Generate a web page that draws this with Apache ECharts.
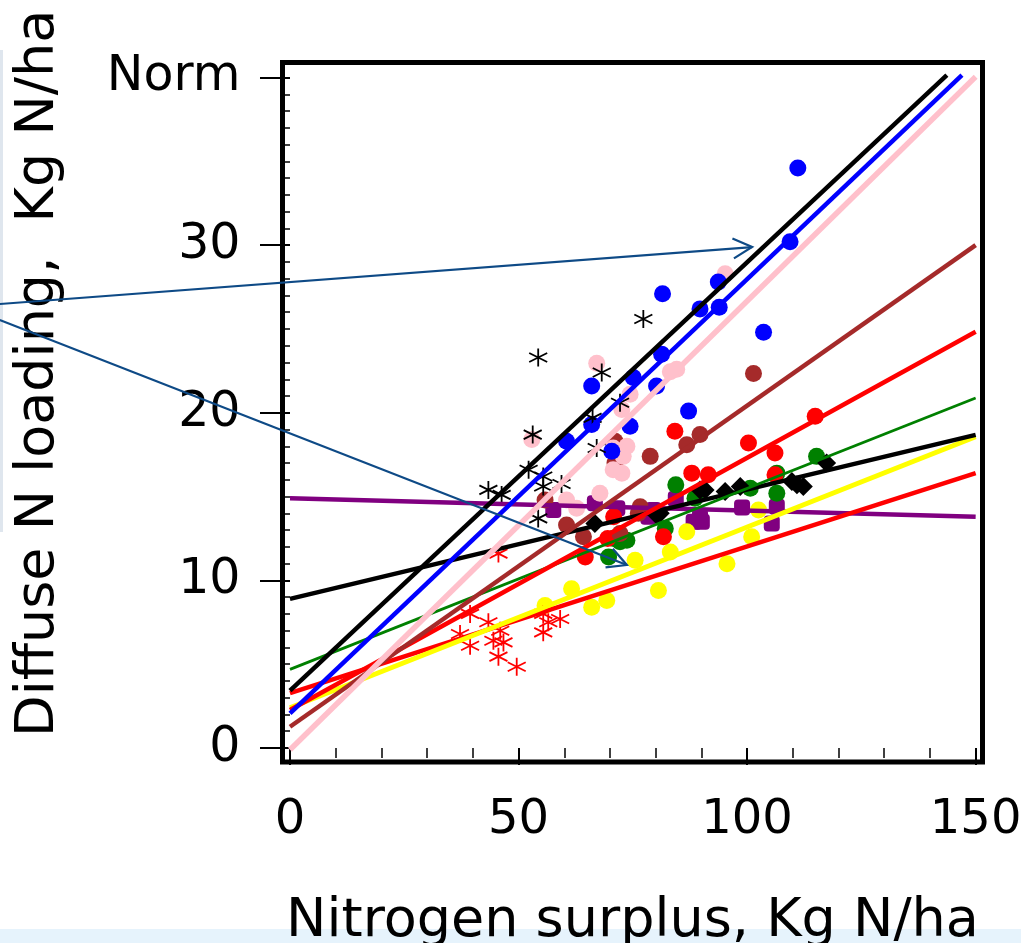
<!DOCTYPE html>
<html lang="en">
<head>
<meta charset="utf-8">
<script src="https://cdn.jsdelivr.net/npm/echarts@6/dist/echarts.min.js"></script>
<style>html,body{margin:0;padding:0;background:#fff;}</style>
</head>
<body>
<div id="main" style="width:1021px;height:943px"></div>
<script type="text/javascript">
// tick positions and labels
var xMajorTicks = [0, 50, 100, 150];
var xMinorTicks = [0, 10, 20, 30, 40, 50, 60, 70, 80, 90, 100, 110, 120, 130, 140, 150];
var yMajorTicks = [0, 10, 20, 30, 40];
var yTickLabels = ['0', '10', '20', '30', 'Norm'];
var yMinorTicks = [0, 1, 2, 3, 4, 5, 6, 7, 8, 9, 10, 11, 12, 13, 14, 15, 16, 17, 18, 19, 20,
    21, 22, 23, 24, 25, 26, 27, 28, 29, 30, 31, 32, 33, 34, 35, 36, 37, 38, 39, 40];

// observations (surplus, loading)
var blueDots = [[111.1, 34.6], [109.4, 30.2], [93.7, 27.8], [81.5, 27.1], [89.7, 26.2], [93.9, 26.3],
    [103.6, 24.8], [81.3, 23.5], [75.1, 22.1], [80.2, 21.6], [66.0, 21.6], [87.2, 20.1],
    [74.4, 19.2], [66.0, 19.3], [60.5, 18.3], [70.4, 17.7]];
var pinkDots = [[95.2, 28.3], [84.6, 22.6], [83.2, 22.45], [67.1, 22.95], [74.4, 21.1], [72.6, 20.2],
    [52.9, 18.4], [70.7, 17.9], [73.7, 18.0], [72.9, 17.4], [70.7, 16.6], [72.6, 16.4],
    [67.8, 15.2], [60.5, 14.8], [62.7, 14.3]];
var brownDots = [[101.4, 22.35], [89.7, 18.7], [86.8, 18.1], [71.1, 18.3], [71.1, 17.0], [78.8, 17.4],
    [55.8, 14.8], [60.5, 13.3], [64.2, 12.6], [76.6, 14.4], [76.2, 14.0], [72.2, 12.8]];
var redDots = [[114.9, 19.8], [84.2, 18.9], [100.3, 18.2], [106.1, 17.6], [87.9, 16.4], [91.5, 16.3],
    [106.1, 16.3], [70.8, 13.8], [81.7, 12.6], [64.6, 11.4], [69.5, 12.5]];
var greenDots = [[115.2, 17.4], [106.5, 16.4], [106.5, 15.2], [100.7, 15.5], [84.4, 15.7], [88.6, 14.9],
    [82.1, 13.1], [72.2, 12.3], [70.8, 12.5], [73.7, 12.4], [69.7, 11.4]];
var blackDots = [[117.4, 17.0], [110.9, 15.7], [112.3, 15.6], [109.8, 15.9], [98.5, 15.6], [95.2, 15.3],
    [90.8, 15.4], [89.7, 15.4], [80.2, 13.9], [81.0, 14.0], [66.7, 13.4]];
var yellowDots = [[102.5, 14.2], [101.0, 12.6], [86.8, 12.9], [95.6, 11.0], [83.2, 11.7], [75.5, 11.2],
    [80.6, 9.4], [61.6, 9.5], [69.3, 8.8], [66.0, 8.4], [55.8, 8.5]];
var purpleDots = [[57.6, 14.2], [66.7, 14.6], [71.6, 14.3], [78.4, 13.8], [79.5, 14.2], [84.4, 14.85],
    [88.3, 13.5], [90.1, 13.5], [89.7, 13.8], [98.9, 14.35], [106.5, 14.4], [105.4, 13.4]];
var blackStars = [[54.3, 23.3], [68.2, 22.4], [77.3, 25.6], [72.2, 20.6], [66.2, 19.7], [53.1, 18.7],
    [67.1, 17.9], [52.2, 16.6], [55.4, 16.2], [55.4, 15.6], [59.4, 15.75], [43.4, 15.4],
    [46.3, 15.1], [54.3, 13.7]];
var redStars = [[45.6, 11.6], [39.4, 8.0], [43.4, 7.5], [46.0, 7.0], [37.2, 6.8], [39.4, 6.1],
    [44.5, 6.4], [46.7, 6.3], [45.6, 5.45], [49.6, 4.85], [55.4, 8.0], [56.5, 7.5],
    [59.1, 7.7], [55.4, 6.9]];

// fitted lines, start and end
var blackSteepFit = [[0, 3.42], [143.7, 40.15]];
var blueFit = [[0, 2.07], [147, 40.15]];
var pinkFit = [[0, -0.1], [150, 40.05]];
var brownFit = [[0, 1.27], [150, 30.0]];
var redSteepFit = [[0, 2.27], [150, 24.84]];
var greenFit = [[0, 4.69], [150, 20.88]];
var blackFlatFit = [[0, 8.9], [150, 18.68]];
var yellowFit = [[0, 2.4], [150, 18.57]];
var redFlatFit = [[0, 3.27], [150, 16.4]];
var purpleFit = [[0, 14.9], [150, 13.8]];

// annotation arrows
var arrowStarts = [[-63.5, 26.49], [-63.5, 25.54]];
var arrowEnds = [[101.1, 29.89], [73.7, 10.92]];

var FONT = 'DejaVu Sans';
var starPath = 'path://M0,-10L0,10M-8.66,-5L8.66,5M-8.66,5L8.66,-5';
var arrowColor = '#0e4a86';

var myChart = echarts.init(document.getElementById('main'));

function dots(data, color, symbol, size) {
    return {
        type: 'scatter', data: data, symbol: symbol || 'circle', symbolSize: size || 17,
        itemStyle: {color: color, opacity: 1}, z: 2, silent: true
    };
}
function stars(data, color) {
    return {
        type: 'scatter', data: data, symbol: starPath, symbolSize: 18,
        itemStyle: {color: 'rgba(0,0,0,0)', borderColor: color, borderWidth: 1.8, opacity: 1}, z: 2, silent: true
    };
}
function fit(data, color, width) {
    return {
        type: 'line', data: data, symbol: 'none', showSymbol: false, silent: true,
        lineStyle: {color: color, width: width}, z: 3
    };
}

var option = {
    animation: false,
    backgroundColor: '#fff',
    grid: {
        left: 282.5, top: 62.5, right: 38.5, bottom: 181,
        show: true, borderColor: '#000', borderWidth: 5, backgroundColor: '#fff',
        outerBoundsMode: 'none'
    },
    xAxis: [{
        type: 'value', min: -1.64, max: 151.5, position: 'bottom',
        axisLine: {show: false}, splitLine: {show: false},
        axisTick: {show: true, customValues: xMajorTicks, length: 17, lineStyle: {color: '#000', width: 2}},
        axisLabel: {customValues: xMajorTicks, margin: 35, fontSize: 48, fontFamily: FONT, color: '#000'},
        name: 'Nitrogen surplus, Kg N/ha', nameLocation: 'middle', nameGap: 133,
        nameTextStyle: {fontSize: 54, fontFamily: FONT, color: '#000'}
    }, {
        type: 'value', min: -1.64, max: 151.5, position: 'bottom',
        axisLine: {show: false}, splitLine: {show: false}, axisLabel: {show: false},
        axisTick: {show: true, customValues: xMinorTicks, length: 10, lineStyle: {color: '#000', width: 1.5}}
    }],
    yAxis: [{
        type: 'value', min: -0.835, max: 40.9, position: 'left',
        axisLine: {show: false}, splitLine: {show: false},
        axisTick: {show: true, customValues: yMajorTicks, length: 30, lineStyle: {color: '#000', width: 2}},
        axisLabel: {
            customValues: yMajorTicks, margin: 42, fontSize: 49, fontFamily: FONT, color: '#000',
            formatter: function (v) {
                var i = yMajorTicks.indexOf(v);
                return i >= 0 ? yTickLabels[i] : '';
            }
        },
        name: 'Diffuse N loading,  Kg N/ha', nameLocation: 'middle', nameGap: 217,
        nameTextStyle: {fontSize: 54, fontFamily: FONT, color: '#000', padding: [0, 0, 0, 78]}
    }, {
        type: 'value', min: -0.835, max: 40.9, position: 'left',
        axisLine: {show: false}, splitLine: {show: false}, axisLabel: {show: false},
        axisTick: {show: true, customValues: yMinorTicks, length: 7, lineStyle: {color: '#000', width: 1.5}}
    }],
    series: [
        dots(purpleDots, '#800080', 'roundRect', 16),
        dots(yellowDots, '#ffff00'),
        dots(greenDots, '#008000'),
        dots(redDots, '#ff0000'),
        dots(blackDots, '#000000', 'diamond', 19),
        dots(brownDots, '#a52a2a'),
        dots(pinkDots, '#ffc0cb'),
        dots(blueDots, '#0000ff'),
        stars(redStars, '#ff0000'),
        stars(blackStars, '#000000'),
        fit(purpleFit, '#800080', 4.5),
        fit(redFlatFit, '#ff0000', 4.5),
        fit(yellowFit, '#ffff00', 5),
        fit(blackFlatFit, '#000000', 4.5),
        fit(greenFit, '#008000', 2.8),
        fit(redSteepFit, '#ff0000', 4.5),
        fit(brownFit, '#a52a2a', 4.5),
        fit(pinkFit, '#ffc0cb', 5.5),
        fit(blueFit, '#0000ff', 4.5),
        fit(blackSteepFit, '#000000', 4.5)
    ]
};
myChart.setOption(option);

// decorations of the slide and the arrows, placed through the axes
var graphics = [
    {type: 'rect', shape: {x: 0, y: 929, width: 1021, height: 14}, style: {fill: '#e6f3fc'}, z: -10, silent: true},
    {type: 'rect', shape: {x: 0, y: 50, width: 3, height: 482}, style: {fill: '#dfe6ee'}, z: -10, silent: true}
];
for (var i = 0; i < arrowStarts.length; i++) {
    var a = myChart.convertToPixel({xAxisIndex: 0, yAxisIndex: 0}, arrowStarts[i]);
    var b = myChart.convertToPixel({xAxisIndex: 0, yAxisIndex: 0}, arrowEnds[i]);
    var dx = b[0] - a[0], dy = b[1] - a[1], len = Math.sqrt(dx * dx + dy * dy);
    var ux = dx / len, uy = dy / len;
    var hx = b[0] - 19 * ux, hy = b[1] - 19 * uy;
    graphics.push({type: 'polyline', shape: {points: [a, b]},
        style: {stroke: arrowColor, lineWidth: 2.2, fill: 'none'}, z: 100, silent: true});
    graphics.push({type: 'polyline',
        shape: {points: [[hx - 10 * uy, hy + 10 * ux], b, [hx + 10 * uy, hy - 10 * ux]]},
        style: {stroke: arrowColor, lineWidth: 2.2, fill: 'none'}, z: 100, silent: true});
}
myChart.setOption({graphic: graphics});
</script>
</body>
</html>
